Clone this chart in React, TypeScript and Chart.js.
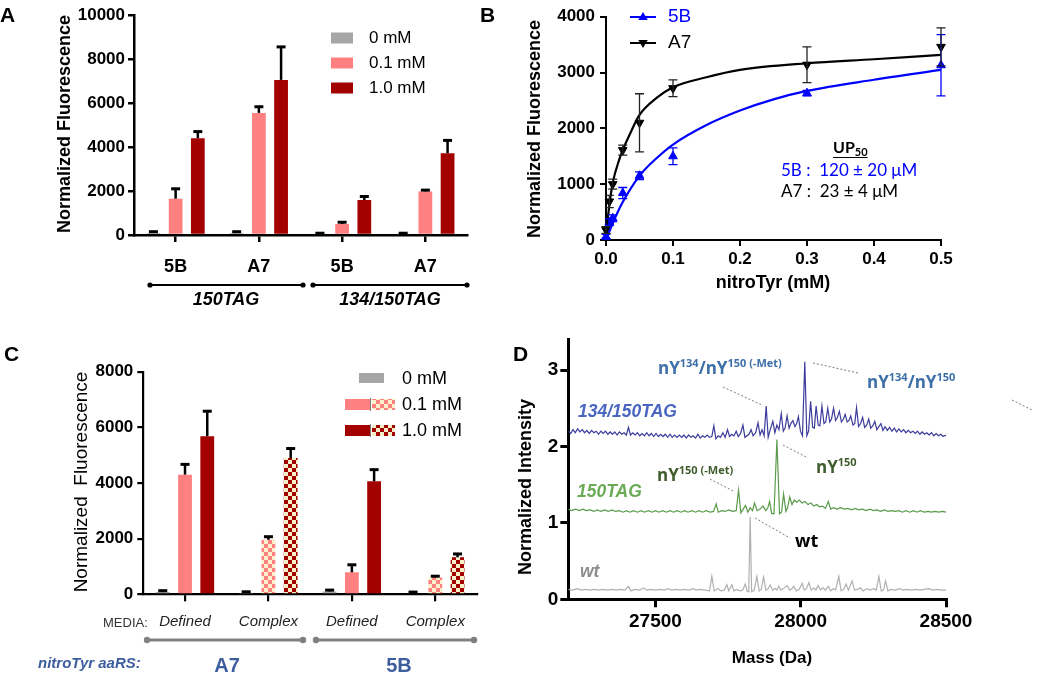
import React, { useEffect, useRef } from 'react';
import { Chart, registerables } from 'chart.js';

Chart.register(...registerables);

const ARIAL = '"Liberation Sans", Arial, sans-serif';
const HUMAN = '"Open Sans", "Liberation Sans", sans-serif';
const LATO = 'Lato, "Liberation Sans", sans-serif';

// ---------------- Panel A ----------------
const aCategories = ['5B', 'A7', '5B', 'A7'];
const aGroups = ['150TAG', '134/150TAG'];
const concLabels = ['0 mM', '0.1 mM', '1.0 mM'];
const aZero = [90, 90, 40, 40];
const aZeroErr = [60, 60, 40, 40];
const aLow = [1650, 5550, 500, 1980];
const aLowErr = [450, 280, 80, 60];
const aHigh = [4400, 7050, 1590, 3720];
const aHighErr = [300, 1500, 160, 580];

// ---------------- Panel B ----------------
const bSeries = ['5B', 'A7'];
const b5BDose = [0, 0.005, 0.01, 0.025, 0.05, 0.1, 0.3, 0.5];
const b5BSignal = [60, 320, 390, 840, 1150, 1500, 2630, 3130];
const b5BErr = [40, 60, 60, 100, 70, 150, 50, 550];
const bA7Dose = [0, 0.005, 0.01, 0.025, 0.05, 0.1, 0.3, 0.5];
const bA7Signal = [180, 690, 1000, 1610, 2100, 2720, 3140, 3460];
const bA7Err = [60, 110, 90, 90, 520, 150, 320, 340];
const b5BFitDose = [0, 0.01, 0.025, 0.05, 0.075, 0.1, 0.15, 0.2, 0.25, 0.3, 0.4, 0.5];
const b5BFit = [0, 300, 680, 1150, 1460, 1710, 2060, 2320, 2520, 2670, 2870, 3046];
const bA7FitDose = [0, 0.005, 0.01, 0.02, 0.025, 0.035, 0.05, 0.075, 0.1, 0.15, 0.2, 0.3, 0.4, 0.5];
const bA7Fit = [100, 620, 1020, 1450, 1610, 1880, 2240, 2540, 2737, 2915, 3047, 3166, 3238, 3315];

// ---------------- Panel C ----------------
const cMedia = ['Defined', 'Complex', 'Defined', 'Complex'];
const cEnzymes = ['A7', '5B'];
const cZero = [80, 50, 100, 40];
const cZeroErr = [50, 40, 50, 40];
const cLow = [4300, 1960, 790, 600];
const cLowErr = [370, 110, 270, 50];
const cHigh = [5680, 4900, 4060, 1330];
const cHighErr = [900, 340, 420, 120];

// ---------------- Panel D ----------------
const dWt = [
  [27200, 0.13], [27215, 0.12], [27230, 0.14], [27245, 0.12], [27260, 0.13], [27275, 0.12], [27290, 0.13], [27305, 0.12],
  [27320, 0.13], [27335, 0.12], [27350, 0.13], [27365, 0.12], [27380, 0.13], [27395, 0.12], [27407, 0.17], [27415, 0.11],
  [27430, 0.13], [27445, 0.12], [27460, 0.15], [27470, 0.12], [27485, 0.13], [27500, 0.12], [27515, 0.13], [27530, 0.12],
  [27545, 0.14], [27555, 0.12], [27570, 0.13], [27585, 0.12], [27600, 0.13], [27615, 0.12], [27630, 0.14], [27640, 0.12],
  [27655, 0.13], [27670, 0.12], [27686, 0.11], [27694, 0.30], [27702, 0.11], [27715, 0.14], [27725, 0.11], [27737, 0.12],
  [27746, 0.19], [27752, 0.11], [27763, 0.19], [27770, 0.11], [27780, 0.13], [27790, 0.11], [27800, 0.12], [27809, 0.20],
  [27816, 0.10], [27821, 0.10], [27826, 1.08], [27831, 0.10], [27840, 0.12], [27849, 0.30], [27857, 0.11], [27864, 0.13],
  [27872, 0.29], [27880, 0.12], [27888, 0.14], [27895, 0.19], [27903, 0.12], [27912, 0.14], [27918, 0.12], [27924, 0.17],
  [27932, 0.12], [27940, 0.14], [27953, 0.18], [27962, 0.12], [27968, 0.13], [27976, 0.17], [27985, 0.11], [27995, 0.13],
  [28005, 0.21], [28012, 0.12], [28020, 0.14], [28028, 0.22], [28036, 0.12], [28045, 0.15], [28052, 0.12], [28060, 0.18],
  [28068, 0.12], [28077, 0.15], [28085, 0.12], [28095, 0.17], [28103, 0.11], [28112, 0.14], [28120, 0.12], [28131, 0.30],
  [28139, 0.11], [28148, 0.13], [28156, 0.20], [28164, 0.12], [28177, 0.24], [28185, 0.12], [28195, 0.13], [28205, 0.15],
  [28215, 0.11], [28228, 0.14], [28240, 0.12], [28250, 0.14], [28260, 0.12], [28269, 0.30], [28277, 0.11], [28285, 0.12],
  [28292, 0.24], [28300, 0.11], [28312, 0.13], [28325, 0.12], [28340, 0.14], [28352, 0.12], [28365, 0.13], [28380, 0.12],
  [28395, 0.13], [28410, 0.12], [28425, 0.13], [28441, 0.14], [28455, 0.12], [28470, 0.13], [28485, 0.12], [28500, 0.12],
];
const d150TAG = [
  [27200, 1.18], [27212, 1.16], [27225, 1.18], [27238, 1.16], [27250, 1.18], [27262, 1.16], [27275, 1.17], [27288, 1.15],
  [27300, 1.17], [27312, 1.15], [27325, 1.17], [27338, 1.15], [27350, 1.17], [27362, 1.15], [27375, 1.16], [27388, 1.14],
  [27400, 1.16], [27412, 1.14], [27425, 1.16], [27438, 1.14], [27450, 1.16], [27462, 1.14], [27475, 1.16], [27488, 1.14],
  [27500, 1.16], [27512, 1.14], [27525, 1.16], [27538, 1.14], [27550, 1.16], [27562, 1.14], [27575, 1.16], [27588, 1.14],
  [27600, 1.16], [27612, 1.14], [27625, 1.16], [27638, 1.14], [27650, 1.16], [27662, 1.14], [27675, 1.16], [27688, 1.14],
  [27700, 1.15], [27709, 1.25], [27716, 1.14], [27728, 1.16], [27740, 1.15], [27752, 1.17], [27765, 1.15], [27778, 1.16],
  [27786, 1.43], [27794, 1.13], [27802, 1.18], [27810, 1.23], [27818, 1.14], [27826, 1.20], [27834, 1.16], [27841, 1.26],
  [27850, 1.16], [27860, 1.18], [27870, 1.22], [27880, 1.16], [27887, 1.20], [27893, 1.28], [27900, 1.12], [27908, 1.12],
  [27918, 2.09], [27927, 1.12], [27934, 1.14], [27941, 1.38], [27949, 1.15], [27955, 1.20], [27962, 1.34], [27970, 1.24],
  [27978, 1.30], [27986, 1.27], [27995, 1.30], [28005, 1.26], [28015, 1.28], [28025, 1.24], [28035, 1.26], [28045, 1.22],
  [28055, 1.24], [28065, 1.21], [28075, 1.22], [28085, 1.19], [28095, 1.28], [28103, 1.18], [28113, 1.20], [28125, 1.18],
  [28137, 1.20], [28150, 1.18], [28162, 1.19], [28175, 1.17], [28188, 1.19], [28200, 1.17], [28212, 1.18], [28225, 1.16],
  [28238, 1.18], [28250, 1.16], [28262, 1.17], [28275, 1.15], [28288, 1.17], [28300, 1.15], [28312, 1.16], [28325, 1.15],
  [28338, 1.16], [28350, 1.14], [28362, 1.16], [28375, 1.14], [28388, 1.16], [28400, 1.14], [28412, 1.16], [28425, 1.14],
  [28438, 1.15], [28450, 1.14], [28462, 1.15], [28475, 1.14], [28488, 1.15], [28500, 1.14],
];
const d134150TAG = [
  [27200, 2.20], [27208, 2.17], [27216, 2.22], [27224, 2.18], [27232, 2.23], [27240, 2.19], [27248, 2.22], [27256, 2.18],
  [27264, 2.21], [27272, 2.17], [27280, 2.21], [27288, 2.18], [27296, 2.20], [27304, 2.16], [27312, 2.20], [27320, 2.17],
  [27328, 2.20], [27336, 2.16], [27344, 2.19], [27352, 2.16], [27360, 2.19], [27368, 2.15], [27376, 2.19], [27384, 2.16],
  [27392, 2.18], [27400, 2.15], [27407, 2.25], [27414, 2.15], [27422, 2.18], [27430, 2.15], [27438, 2.18], [27446, 2.14],
  [27454, 2.17], [27462, 2.14], [27470, 2.18], [27478, 2.14], [27486, 2.17], [27494, 2.13], [27502, 2.17], [27510, 2.13],
  [27518, 2.16], [27526, 2.13], [27534, 2.16], [27542, 2.12], [27550, 2.16], [27558, 2.12], [27566, 2.15], [27574, 2.12],
  [27582, 2.15], [27590, 2.12], [27598, 2.15], [27606, 2.11], [27614, 2.15], [27622, 2.12], [27630, 2.14], [27638, 2.11],
  [27646, 2.16], [27654, 2.11], [27662, 2.14], [27670, 2.12], [27678, 2.15], [27686, 2.12], [27694, 2.13], [27701, 2.27],
  [27708, 2.10], [27716, 2.14], [27724, 2.12], [27732, 2.18], [27740, 2.12], [27748, 2.22], [27755, 2.13], [27762, 2.16],
  [27770, 2.14], [27778, 2.20], [27785, 2.13], [27793, 2.17], [27801, 2.28], [27808, 2.12], [27815, 2.14], [27822, 2.16],
  [27829, 2.22], [27836, 2.14], [27845, 2.18], [27853, 2.31], [27860, 2.15], [27867, 2.22], [27874, 2.14], [27881, 2.53],
  [27888, 2.12], [27895, 2.22], [27904, 2.33], [27911, 2.18], [27918, 2.28], [27925, 2.22], [27933, 2.43], [27940, 2.20],
  [27946, 2.24], [27953, 2.40], [27960, 2.24], [27966, 2.30], [27973, 2.34], [27980, 2.26], [27986, 2.30], [27992, 2.39],
  [27999, 2.20], [28006, 2.14], [28014, 3.11], [28021, 2.14], [28027, 2.20], [28034, 2.59], [28041, 2.25], [28047, 2.24],
  [28053, 2.53], [28060, 2.28], [28066, 2.27], [28073, 2.53], [28080, 2.30], [28086, 2.32], [28093, 2.50], [28100, 2.32],
  [28106, 2.36], [28113, 2.50], [28120, 2.34], [28126, 2.38], [28133, 2.46], [28140, 2.32], [28147, 2.36], [28153, 2.42],
  [28160, 2.32], [28166, 2.34], [28172, 2.40], [28180, 2.28], [28186, 2.30], [28192, 2.51], [28199, 2.26], [28206, 2.30],
  [28213, 2.38], [28220, 2.25], [28227, 2.28], [28234, 2.36], [28241, 2.24], [28248, 2.27], [28255, 2.33], [28262, 2.22],
  [28269, 2.26], [28276, 2.30], [28283, 2.21], [28290, 2.26], [28298, 2.21], [28306, 2.25], [28314, 2.20], [28322, 2.24],
  [28330, 2.19], [28338, 2.23], [28346, 2.19], [28354, 2.22], [28362, 2.18], [28370, 2.21], [28378, 2.18], [28386, 2.20],
  [28394, 2.17], [28402, 2.20], [28410, 2.16], [28418, 2.19], [28426, 2.16], [28434, 2.18], [28442, 2.15], [28450, 2.18],
  [28458, 2.14], [28466, 2.17], [28474, 2.14], [28482, 2.16], [28490, 2.13], [28500, 2.15],
];
const dTraceNames = ['wt', '150TAG', '134/150TAG'];
const dMassTicks = [27500, 28000, 28500];
const dIntensityTicks = [0, 1, 2, 3];

// ---------------- drawing helpers ----------------
function txt(ctx: any, t: string, x: number, y: number, font: string, color = '#000', align = 'left', baseline = 'alphabetic') {
  ctx.save();
  ctx.font = font;
  ctx.fillStyle = color;
  ctx.textAlign = align;
  ctx.textBaseline = baseline;
  ctx.fillText(t, x, y);
  ctx.restore();
}
function rotTxt(ctx: any, t: string, cx: number, cy: number, font: string, color = '#000') {
  ctx.save();
  ctx.translate(cx, cy);
  ctx.rotate(-Math.PI / 2);
  ctx.font = font;
  ctx.fillStyle = color;
  ctx.textAlign = 'center';
  ctx.textBaseline = 'middle';
  ctx.fillText(t, 0, 0);
  ctx.restore();
}
function runs(ctx: any, x: number, y: number, parts: any[], color: string) {
  ctx.save();
  ctx.textAlign = 'left';
  ctx.textBaseline = 'alphabetic';
  let cx = x;
  for (const p of parts) {
    ctx.font = p.font;
    ctx.fillStyle = p.color || color;
    ctx.fillText(p.t, cx, y + (p.dy || 0));
    cx += ctx.measureText(p.t).width;
  }
  ctx.restore();
  return cx - x;
}
function bracket(ctx: any, x1: number, x2: number, y: number, color: string, w: number, r: number) {
  ctx.save();
  ctx.strokeStyle = color;
  ctx.fillStyle = color;
  ctx.lineWidth = w;
  ctx.beginPath();
  ctx.moveTo(x1, y);
  ctx.lineTo(x2, y);
  ctx.stroke();
  [x1, x2].forEach((x) => {
    ctx.beginPath();
    ctx.arc(x, y, r, 0, Math.PI * 2);
    ctx.fill();
  });
  ctx.restore();
}
function dashed(ctx: any, x1: number, y1: number, x2: number, y2: number) {
  ctx.save();
  ctx.strokeStyle = '#7a7a7a';
  ctx.lineWidth = 1;
  ctx.setLineDash([2, 2]);
  ctx.beginPath();
  ctx.moveTo(x1, y1);
  ctx.lineTo(x2, y2);
  ctx.stroke();
  ctx.restore();
}
function tri(ctx: any, cx: number, cy: number, r: number, down: boolean, color: string) {
  ctx.save();
  ctx.fillStyle = color;
  ctx.beginPath();
  const s = down ? -1 : 1;
  ctx.moveTo(cx, cy - s * r);
  ctx.lineTo(cx - r * 0.95, cy + s * r * 0.6);
  ctx.lineTo(cx + r * 0.95, cy + s * r * 0.6);
  ctx.closePath();
  ctx.fill();
  ctx.restore();
}

const errorBarPlugin = {
  id: 'errBars',
  afterDatasetsDraw(chart: any) {
    const ctx = chart.ctx;
    chart.data.datasets.forEach((ds: any, i: number) => {
      const errs = ds.errors;
      if (!errs) return;
      const meta = chart.getDatasetMeta(i);
      const ys = chart.scales[meta.yAxisID];
      ctx.save();
      ctx.strokeStyle = ds.errorColor || '#000';
      meta.data.forEach((el: any, j: number) => {
        const raw = ds.data[j];
        const v = typeof raw === 'number' ? raw : raw.y;
        const e = errs[j];
        if (!e) return;
        const yTop = ys.getPixelForValue(v + e);
        const yBot = ds.errorBoth ? ys.getPixelForValue(v - e) : el.y;
        const cap = ds.capWidth || 8;
        ctx.lineWidth = ds.errorWidth || 2;
        ctx.beginPath();
        ctx.moveTo(el.x, yBot);
        ctx.lineTo(el.x, yTop);
        ctx.stroke();
        ctx.lineWidth = ds.capThickness || ds.errorWidth || 2;
        ctx.beginPath();
        ctx.moveTo(el.x - cap / 2, yTop);
        ctx.lineTo(el.x + cap / 2, yTop);
        if (ds.errorBoth) {
          ctx.moveTo(el.x - cap / 2, yBot);
          ctx.lineTo(el.x + cap / 2, yBot);
        }
        ctx.stroke();
      });
      ctx.restore();
    });
  },
};

const axis = (w: number, tick: number) => ({
  border: { display: true, color: '#000', width: w },
  grid: { display: true, drawOnChartArea: false, drawTicks: true, tickLength: tick, color: '#000', lineWidth: w, offset: false },
});
const tickFont = (size: number) => ({ family: ARIAL, size, weight: 'bold' });
const plain = (v: any) => String(v);
const baseOpts = {
  responsive: false,
  animation: false,
  devicePixelRatio: 1,
  events: [],
  plugins: { legend: { display: false }, tooltip: { enabled: false } },
};

// ---------------- overlays ----------------
const overlayA = {
  id: 'overlayA',
  afterDraw(chart: any) {
    const ctx = chart.ctx;
    txt(ctx, 'A', 0, 22, `bold 21px ${ARIAL}`);
    rotTxt(ctx, 'Normalized Fluorescence', 65, 124, `bold 18px ${ARIAL}`);
    bracket(ctx, 150, 303, 285, '#000', 2, 2.6);
    bracket(ctx, 313, 467, 285, '#000', 2, 2.6);
    txt(ctx, aGroups[0], 226, 300, `italic bold 18px ${ARIAL}`, '#000', 'center', 'middle');
    txt(ctx, aGroups[1], 390, 300, `italic bold 18px ${ARIAL}`, '#000', 'center', 'middle');
    chart.data.datasets.forEach((ds: any, i: number) => {
      const cy = 38 + i * 25;
      ctx.save();
      ctx.fillStyle = ds.backgroundColor;
      ctx.fillRect(331, cy - 5.5, 22, 11);
      ctx.restore();
      txt(ctx, ds.label, 369, cy, `17px ${ARIAL}`, '#000', 'left', 'middle');
    });
  },
};

const overlayB = {
  id: 'overlayB',
  afterDraw(chart: any) {
    const ctx = chart.ctx;
    txt(ctx, 'B', 480, 22, `bold 21px ${ARIAL}`);
    rotTxt(ctx, 'Normalized Fluorescence', 535, 129, `bold 18px ${ARIAL}`);
    txt(ctx, 'nitroTyr (mM)', 773, 283, `bold 18px ${ARIAL}`, '#000', 'center', 'middle');
    const cols = ['#0000ff', '#000'];
    bSeries.forEach((s, i) => {
      const cy = 17 + i * 26;
      ctx.save();
      ctx.strokeStyle = cols[i];
      ctx.lineWidth = 2;
      ctx.beginPath();
      ctx.moveTo(630, cy);
      ctx.lineTo(656, cy);
      ctx.stroke();
      ctx.restore();
      tri(ctx, 643, cy, 5, i === 1, cols[i]);
      txt(ctx, s, 668, cy, `19px ${ARIAL}`, cols[i], 'left', 'middle');
    });
    const w = runs(ctx, 833, 153, [
      { t: 'UP', font: `bold 16px ${LATO}` },
      { t: '50', font: `bold 11px ${LATO}`, dy: 3 },
    ], '#000');
    ctx.save();
    ctx.strokeStyle = '#000';
    ctx.lineWidth = 1.2;
    ctx.beginPath();
    ctx.moveTo(833, 157.5);
    ctx.lineTo(833 + w, 157.5);
    ctx.stroke();
    ctx.restore();
    txt(ctx, '5B :  120 ± 20 μM', 781, 176, `17px ${LATO}`, '#0000ff');
    txt(ctx, 'A7 :  23 ± 4 μM', 781, 197, `17px ${LATO}`, '#000');
  },
};

const overlayC = {
  id: 'overlayC',
  afterDraw(chart: any) {
    const ctx = chart.ctx;
    txt(ctx, 'C', 4, 361, `bold 21px ${ARIAL}`);
    rotTxt(ctx, 'Normalized  Fluorescence', 82, 482, `19px ${ARIAL}`);
    const ds = chart.data.datasets;
    ctx.save();
    ctx.fillStyle = ds[0].backgroundColor[0];
    ctx.fillRect(359, 373, 25, 10);
    [1, 2].forEach((i) => {
      const y = 399 + (i - 1) * 26;
      ctx.fillStyle = ds[i].backgroundColor[0];
      ctx.fillRect(345, y, 25, 11);
      ctx.fillStyle = ds[i].backgroundColor[1];
      ctx.fillRect(372, y, 23, 11);
      ctx.fillStyle = '#7a7a7a';
      ctx.fillRect(370, y - 1, 1, 13);
    });
    ctx.restore();
    concLabels.forEach((l, i) => txt(ctx, l, 402, 379 + i * 26, `18px ${ARIAL}`, '#000', 'left', 'middle'));
    txt(ctx, 'MEDIA:', 103, 623, `13px ${ARIAL}`, '#333', 'left', 'middle');
    bracket(ctx, 147, 303, 640, '#808080', 3, 3.2);
    bracket(ctx, 316, 474, 640, '#808080', 3, 3.2);
    const blue = '#3d5d9e';
    txt(ctx, 'nitroTyr aaRS:', 38, 664, `italic bold 15px ${ARIAL}`, blue, 'left', 'middle');
    txt(ctx, cEnzymes[0], 227, 666, `bold 20px ${ARIAL}`, blue, 'center', 'middle');
    txt(ctx, cEnzymes[1], 399, 666, `bold 20px ${ARIAL}`, blue, 'center', 'middle');
  },
};

const overlayD = {
  id: 'overlayD',
  afterDraw(chart: any) {
    const ctx = chart.ctx;
    txt(ctx, 'D', 513, 361, `bold 21px ${ARIAL}`);
    rotTxt(ctx, 'Normalized Intensity', 526, 487, `bold 18px ${ARIAL}`);
    txt(ctx, 'Mass (Da)', 772, 658, `bold 17px ${ARIAL}`, '#000', 'center', 'middle');
    txt(ctx, dTraceNames[2], 578, 417, `italic bold 17.5px ${ARIAL}`, '#4a66c0');
    txt(ctx, dTraceNames[1], 577, 497, `italic bold 17.5px ${ARIAL}`, '#6aaa55');
    txt(ctx, dTraceNames[0], 580, 577, `italic bold 17.5px ${ARIAL}`, '#8c8c8c');
    const big = `bold 17px ${HUMAN}`;
    const sup = `bold 11px ${HUMAN}`;
    const steel = '#3d6fa8';
    const dgreen = '#3f5d2c';
    runs(ctx, 658, 374, [
      { t: 'nY', font: big }, { t: '134', font: sup, dy: -7 }, { t: '/nY', font: big },
      { t: '150', font: sup, dy: -7 }, { t: ' (-Met)', font: sup, dy: -7 },
    ], steel);
    runs(ctx, 867, 388, [
      { t: 'nY', font: big }, { t: '134', font: sup, dy: -7 }, { t: '/nY', font: big }, { t: '150', font: sup, dy: -7 },
    ], steel);
    runs(ctx, 657, 481, [
      { t: 'nY', font: big }, { t: '150', font: sup, dy: -7 }, { t: ' (-Met)', font: sup, dy: -7 },
    ], dgreen);
    runs(ctx, 816, 473, [{ t: 'nY', font: big }, { t: '150', font: sup, dy: -7 }], dgreen);
    txt(ctx, 'wt', 795, 547, `bold 18px ${HUMAN}`, '#000');
    dashed(ctx, 723, 387, 762, 405);
    dashed(ctx, 813, 363, 858, 373);
    dashed(ctx, 1012, 400, 1032, 410);
    dashed(ctx, 783, 445, 808, 458);
    dashed(ctx, 710, 479, 735, 492);
    dashed(ctx, 755, 518, 790, 538);
  },
};

function checker(ctx: any, c1: string, c2: string, s = 4) {
  const cv = document.createElement('canvas');
  cv.width = 2 * s;
  cv.height = 2 * s;
  const g = cv.getContext('2d') as any;
  g.fillStyle = c2;
  g.fillRect(0, 0, 2 * s, 2 * s);
  g.fillStyle = c1;
  g.fillRect(0, 0, s, s);
  g.fillRect(s, s, s, s);
  return ctx.createPattern(cv, 'repeat');
}

export default function App() {
  const refA = useRef<HTMLCanvasElement>(null);
  const refB = useRef<HTMLCanvasElement>(null);
  const refC = useRef<HTMLCanvasElement>(null);
  const refD = useRef<HTMLCanvasElement>(null);

  useEffect(() => {
    const charts: any[] = [];
    const grey = '#a6a6a6';
    const pink = '#ff8080';
    const dark = '#a30000';

    charts.push(new Chart(refA.current as any, {
      type: 'bar',
      data: {
        labels: aCategories,
        datasets: [
          { label: concLabels[0], data: aZero, errors: aZeroErr, backgroundColor: grey, errorWidth: 2.5, capThickness: 3, capWidth: 9 },
          { label: concLabels[1], data: aLow, errors: aLowErr, backgroundColor: pink, errorWidth: 2.5, capThickness: 3, capWidth: 9 },
          { label: concLabels[2], data: aHigh, errors: aHighErr, backgroundColor: dark, errorWidth: 2.5, capThickness: 3, capWidth: 9 },
        ] as any,
      },
      options: {
        ...baseOpts,
        layout: { padding: { left: 0, top: 15, right: 583, bottom: 355 } },
        datasets: { bar: { categoryPercentage: 0.8, barPercentage: 0.62 } },
        scales: {
          x: { ...axis(2.5, 7), ticks: { font: tickFont(18), color: '#000', padding: 14 }, afterFit: (s: any) => { s.height = 85; } },
          y: { min: 0, max: 10000, ...axis(2.5, 6), ticks: { stepSize: 2000, font: tickFont(17), color: '#000', padding: 3, callback: plain }, afterFit: (s: any) => { s.width = 134; } },
        },
      } as any,
      plugins: [errorBarPlugin, overlayA],
    }));

    const pts = (xs: number[], ys: number[]) => xs.map((x, i) => ({ x, y: ys[i] }));
    charts.push(new Chart(refB.current as any, {
      type: 'scatter',
      data: {
        datasets: [
          { type: 'line', label: '5B fit', data: pts(b5BFitDose, b5BFit), borderColor: '#0000ff', borderWidth: 2.2, pointRadius: 0, cubicInterpolationMode: 'monotone', clip: false },
          { type: 'line', label: 'A7 fit', data: pts(bA7FitDose, bA7Fit), borderColor: '#000', borderWidth: 2.2, pointRadius: 0, cubicInterpolationMode: 'monotone', clip: false },
          { label: bSeries[0], data: pts(b5BDose, b5BSignal), pointStyle: 'triangle', pointRadius: 5, backgroundColor: '#0000ff', borderColor: '#0000ff', errors: b5BErr, errorBoth: true, errorColor: '#0000ff', errorWidth: 1.3, capWidth: 9, clip: false },
          { label: bSeries[1], data: pts(bA7Dose, bA7Signal), pointStyle: 'triangle', pointRotation: 180, pointRadius: 5, backgroundColor: '#000', borderColor: '#000', errors: bA7Err, errorBoth: true, errorColor: '#222', errorWidth: 1.3, capWidth: 9, clip: false },
        ] as any,
      },
      options: {
        ...baseOpts,
        layout: { padding: { left: 0, top: 16.7, right: 109, bottom: 375 } },
        scales: {
          x: { type: 'linear', min: 0, max: 0.5, ...axis(2, 6), ticks: { stepSize: 0.1, font: tickFont(17), color: '#000', padding: 3, callback: (v: any) => Number(v).toFixed(1) }, afterFit: (s: any) => { s.height = 60; } },
          y: { min: 0, max: 4000, ...axis(2, 6), ticks: { stepSize: 1000, font: tickFont(17), color: '#000', padding: 5, callback: plain }, afterFit: (s: any) => { s.width = 606; } },
        },
      } as any,
      plugins: [errorBarPlugin, overlayB],
    }));

    const cctx = (refC.current as any).getContext('2d');
    const pinkChk = checker(cctx, pink, '#fbf2cc');
    const darkChk = checker(cctx, dark, '#f6efc8');
    charts.push(new Chart(refC.current as any, {
      type: 'bar',
      data: {
        labels: cMedia,
        datasets: [
          { label: concLabels[0], data: cZero, errors: cZeroErr, backgroundColor: [grey, grey, grey, grey], errorWidth: 2.5, capThickness: 3, capWidth: 9 },
          { label: concLabels[1], data: cLow, errors: cLowErr, backgroundColor: [pink, pinkChk, pink, pinkChk], errorWidth: 2.5, capThickness: 3, capWidth: 9 },
          { label: concLabels[2], data: cHigh, errors: cHighErr, backgroundColor: [dark, darkChk, dark, darkChk], errorWidth: 2.5, capThickness: 3, capWidth: 9 },
        ] as any,
      },
      options: {
        ...baseOpts,
        layout: { padding: { left: 0, top: 371.7, right: 573, bottom: 40.7 } },
        datasets: { bar: { categoryPercentage: 0.8, barPercentage: 0.62 } },
        scales: {
          x: { ...axis(2.2, 7), ticks: { font: { family: ARIAL, size: 15, style: 'italic' }, color: '#222', padding: 12 }, afterFit: (s: any) => { s.height = 40; } },
          y: { min: 0, max: 8000, ...axis(2.2, 6), ticks: { stepSize: 2000, font: tickFont(17), color: '#000', padding: 4, callback: plain }, afterFit: (s: any) => { s.width = 143.3; } },
        },
      } as any,
      plugins: [errorBarPlugin, overlayC],
    }));

    const xy = (arr: number[][]) => arr.map((p) => ({ x: p[0], y: p[1] }));
    charts.push(new Chart(refD.current as any, {
      type: 'line',
      data: {
        datasets: [
          { label: dTraceNames[0], data: xy(dWt), borderColor: '#b0b0b0', borderWidth: 1.2, pointRadius: 0, tension: 0 },
          { label: dTraceNames[1], data: xy(d150TAG), borderColor: '#5a9a4a', borderWidth: 1.2, pointRadius: 0, tension: 0 },
          { label: dTraceNames[2], data: xy(d134150TAG), borderColor: '#3c3c9c', borderWidth: 1.2, pointRadius: 0, tension: 0 },
        ] as any,
      },
      options: {
        ...baseOpts,
        layout: { padding: { left: 500, top: 339.5, right: 104, bottom: 35.7 } },
        scales: {
          x: {
            type: 'linear', min: 27200, max: 28500, ...axis(3, 8),
            afterBuildTicks: (s: any) => { s.ticks = dMassTicks.map((v) => ({ value: v })); },
            ticks: { font: tickFont(19), color: '#000', padding: 3, callback: plain },
            afterFit: (s: any) => { s.height = 40; },
          },
          y: {
            min: 0, max: 3.4, ...axis(3, 8),
            afterBuildTicks: (s: any) => { s.ticks = dIntensityTicks.map((v) => ({ value: v })); },
            ticks: { font: tickFont(19), color: '#000', padding: 2, callback: plain },
            afterFit: (s: any) => { s.width = 68.3; },
          },
        },
      } as any,
      plugins: [overlayD],
    }));

    return () => charts.forEach((c) => c.destroy());
  }, []);

  const cs: any = { position: 'absolute', left: 0, top: 0 };
  return (
    <div style={{ position: 'fixed', left: 0, top: 0, width: 1050, height: 675, background: '#fff', overflow: 'hidden' }}>
      <canvas ref={refA} width={1050} height={675} style={cs} />
      <canvas ref={refB} width={1050} height={675} style={cs} />
      <canvas ref={refC} width={1050} height={675} style={cs} />
      <canvas ref={refD} width={1050} height={675} style={cs} />
    </div>
  );
}
